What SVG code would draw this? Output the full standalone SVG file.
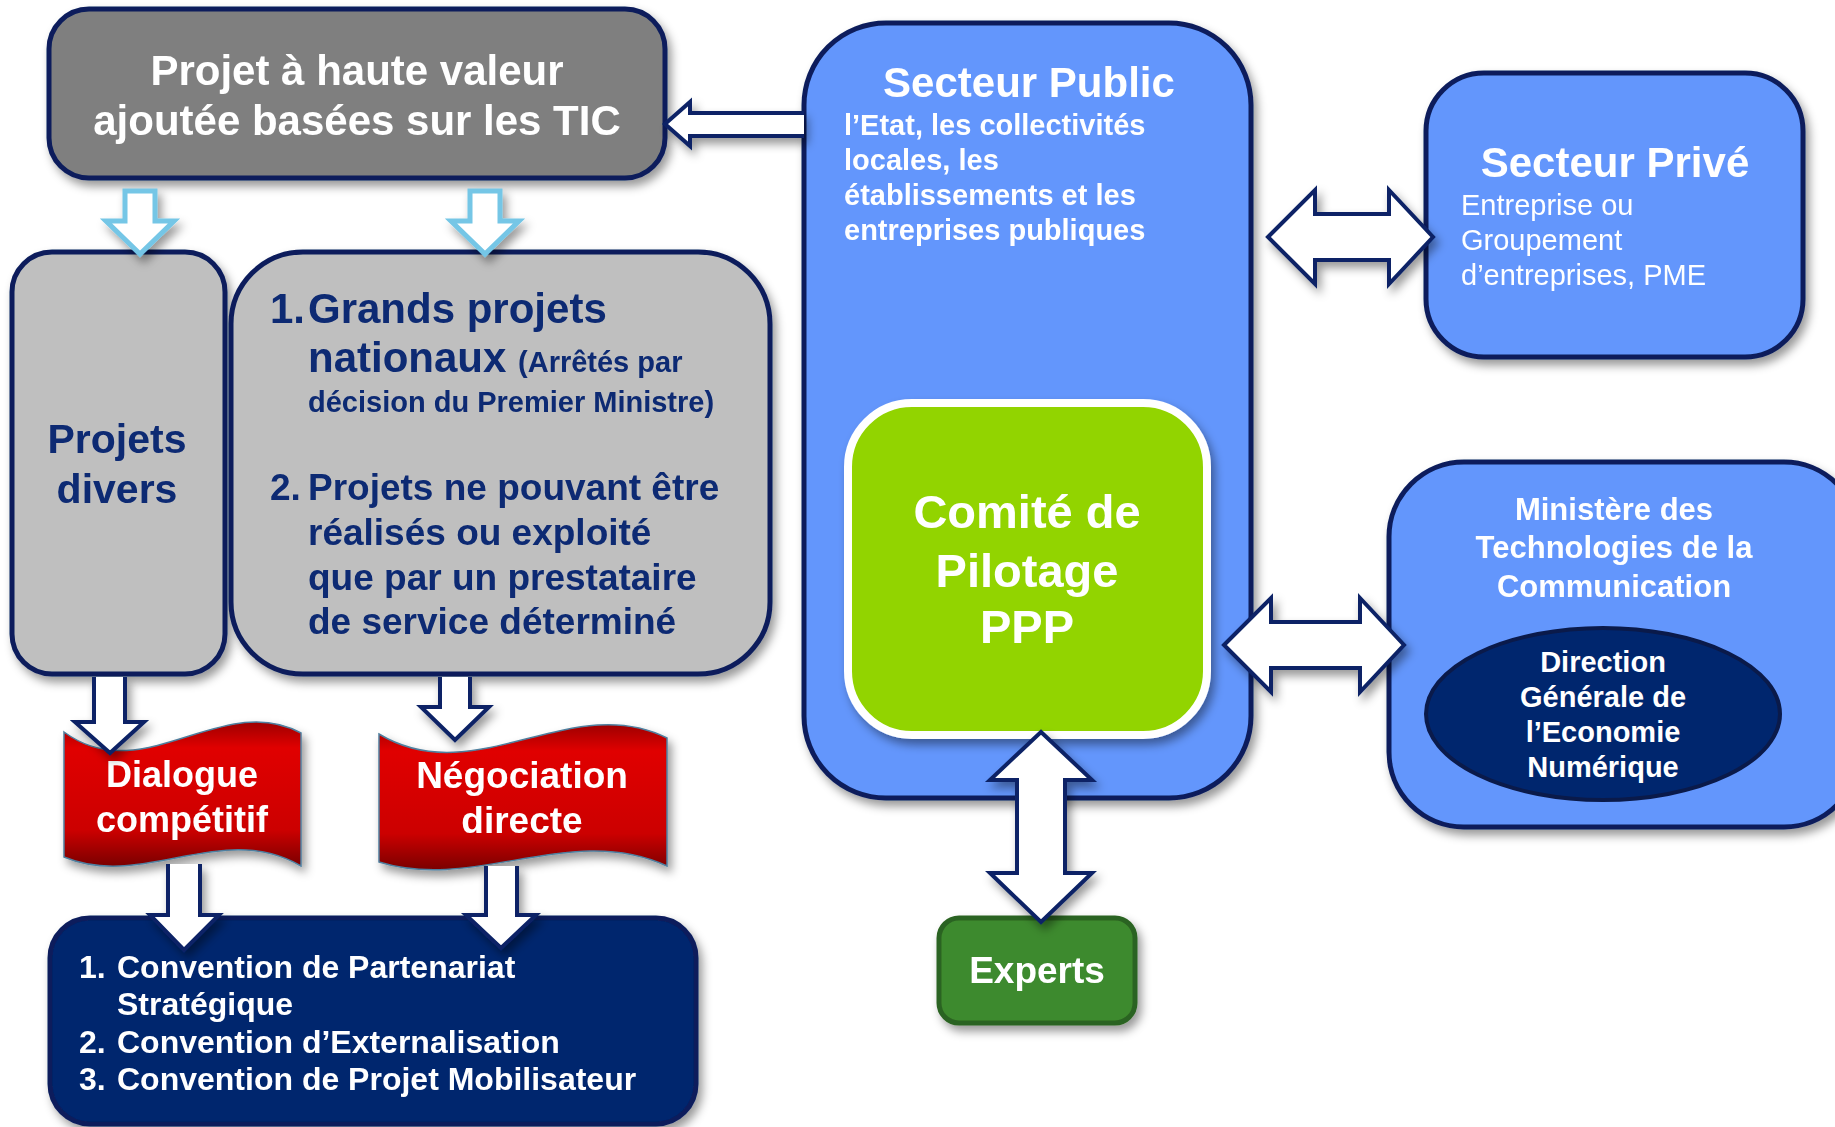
<svg xmlns="http://www.w3.org/2000/svg" width="1835" height="1127" viewBox="0 0 1835 1127">
<defs>
<filter id="sh" x="-15%" y="-15%" width="135%" height="135%">
<feDropShadow dx="4" dy="6" stdDeviation="5" flood-color="#000" flood-opacity="0.4"/>
</filter>
<linearGradient id="red" x1="0" y1="0" x2="0" y2="1">
<stop offset="0" stop-color="#9e0000"/>
<stop offset="0.18" stop-color="#e00000"/>
<stop offset="0.75" stop-color="#cc0000"/>
<stop offset="1" stop-color="#7a0000"/>
</linearGradient>
<style>
text{font-family:"Liberation Sans",Arial,sans-serif;font-weight:bold}
.box{stroke:#0a1f5c;stroke-width:5}
.grey{fill:#7f7f7f}
.lgrey{fill:#bfbfbf}
.blue{fill:#6396fc}
.navy{fill:#00256e}
.w{fill:#fff}
.nv{fill:#0d2a73}
.arr{fill:#fff;stroke:#0a2366;stroke-width:4;stroke-linejoin:miter}
.larr{fill:#fff;stroke:#74c6e6;stroke-width:5;stroke-linejoin:miter}
.banner{fill:url(#red);stroke:#4f7f9e;stroke-width:1.5}
</style>
</defs>

<g id="projet-tic" filter="url(#sh)">
<rect class="box grey" x="49" y="9" width="616" height="169" rx="40"/>
<text class="w" x="357" y="85" font-size="42" text-anchor="middle">Projet à haute valeur</text>
<text class="w" x="357" y="135" font-size="42" text-anchor="middle">ajoutée basées sur les TIC</text>
</g>

<g id="projets-divers" filter="url(#sh)">
<rect class="box lgrey" x="12" y="252" width="213" height="422" rx="40"/>
<text class="nv" x="117" y="453" font-size="41" text-anchor="middle">Projets</text>
<text class="nv" x="117" y="503" font-size="41" text-anchor="middle">divers</text>
</g>

<g id="grands-projets" filter="url(#sh)">
<rect class="box lgrey" x="231" y="252" width="539" height="422" rx="72"/>
<text class="nv" font-size="42"><tspan x="270" y="323">1.</tspan><tspan x="308" y="323">Grands projets</tspan><tspan x="308" y="372">nationaux </tspan><tspan font-size="29">(Arrêtés par</tspan></text>
<text class="nv" x="308" y="412" font-size="29">décision du Premier Ministre)</text>
<text class="nv" font-size="37"><tspan x="270" y="500">2.</tspan><tspan x="308" y="500">Projets ne pouvant être</tspan><tspan x="308" y="545">réalisés ou exploité</tspan><tspan x="308" y="590">que par un prestataire</tspan><tspan x="308" y="634">de service déterminé</tspan></text>
</g>

<g id="dialogue" filter="url(#sh)">
<path class="banner" d="M64,732 C143,790 222,690 301,733 L301,866 C222,820 143,890 64,857 Z"/>
<text class="w" x="182" y="787" font-size="36" text-anchor="middle">Dialogue</text>
<text class="w" x="182" y="832" font-size="36" text-anchor="middle">compétitif</text>
</g>

<g id="negociation" filter="url(#sh)">
<path class="banner" d="M379,734 C475,792 571,690 667,738 L667,866 C571,822 475,892 379,862 Z"/>
<text class="w" x="522" y="788" font-size="37" text-anchor="middle">Négociation</text>
<text class="w" x="522" y="833" font-size="37" text-anchor="middle">directe</text>
</g>

<g id="conventions" filter="url(#sh)">
<rect class="box navy" x="50" y="918" width="646" height="206" rx="40"/>
<text class="w" font-size="32"><tspan x="79" y="978">1.</tspan><tspan x="117" y="978">Convention de Partenariat</tspan><tspan x="117" y="1015">Stratégique</tspan><tspan x="79" y="1053">2.</tspan><tspan x="117" y="1053">Convention d’Externalisation</tspan><tspan x="79" y="1090">3.</tspan><tspan x="117" y="1090">Convention de Projet Mobilisateur</tspan></text>
</g>

<g id="secteur-public" filter="url(#sh)">
<rect class="box blue" x="804" y="23" width="447" height="775" rx="82"/>
<text class="w" x="1029" y="97" font-size="42" text-anchor="middle">Secteur Public</text>
<text class="w" font-size="29"><tspan x="844" y="135">l’Etat, les collectivités</tspan><tspan x="844" y="170">locales, les</tspan><tspan x="844" y="205">établissements et les</tspan><tspan x="844" y="240">entreprises publiques</tspan></text>
</g>

<g id="comite" filter="url(#sh)">
<rect x="848" y="403" width="359" height="332" rx="64" fill="#92d400" stroke="#fff" stroke-width="8"/>
<text class="w" x="1027" y="528" font-size="47" text-anchor="middle">Comité de</text>
<text class="w" x="1027" y="587" font-size="47" text-anchor="middle">Pilotage</text>
<text class="w" x="1027" y="643" font-size="47" text-anchor="middle">PPP</text>
</g>

<g id="secteur-prive" filter="url(#sh)">
<rect class="box blue" x="1426" y="73" width="377" height="284" rx="58"/>
<text class="w" x="1615" y="177" font-size="42" text-anchor="middle">Secteur Privé</text>
<text class="w" font-size="29" font-weight="normal" style="font-weight:normal"><tspan x="1461" y="215">Entreprise ou</tspan><tspan x="1461" y="250">Groupement</tspan><tspan x="1461" y="285">d’entreprises, PME</tspan></text>
</g>

<g id="ministere" filter="url(#sh)">
<rect class="box blue" x="1389" y="462" width="470" height="365" rx="75"/>
<text class="w" x="1614" y="520" font-size="31" text-anchor="middle">Ministère des</text>
<text class="w" x="1614" y="558" font-size="31" text-anchor="middle">Technologies de la</text>
<text class="w" x="1614" y="597" font-size="31" text-anchor="middle">Communication</text>
</g>

<g id="direction">
<ellipse cx="1603" cy="714" rx="177" ry="86" fill="#00266e" stroke="#0a1a4a" stroke-width="4"/>
<text class="w" x="1603" y="672" font-size="29" text-anchor="middle">Direction</text>
<text class="w" x="1603" y="707" font-size="29" text-anchor="middle">Générale de</text>
<text class="w" x="1603" y="742" font-size="29" text-anchor="middle">l’Economie</text>
<text class="w" x="1603" y="777" font-size="29" text-anchor="middle">Numérique</text>
</g>

<g id="experts" filter="url(#sh)">
<rect x="939" y="918" width="196" height="105" rx="20" fill="#3e8a2f" stroke="#2c6421" stroke-width="5"/>
<text class="w" x="1037" y="983" font-size="37" text-anchor="middle">Experts</text>
</g>

<g id="connectors" filter="url(#sh)">
<path class="arr" d="M804,113 L690,113 L690,102 L665,124 L690,146 L690,136 L804,136"/>
<path class="larr" d="M125,191 L155,191 L155,221 L174,221 L140,254 L106,221 L125,221 Z"/>
<path class="larr" d="M470,191 L500,191 L500,221 L519,221 L485,254 L451,221 L470,221 Z"/>
<path class="arr" d="M94,677 L94,722 L75,722 L110,753 L144,722 L125,722 L125,677"/>
<path class="arr" d="M440,677 L440,707 L421,707 L455,740 L489,707 L470,707 L470,677"/>
<path class="arr" d="M168,864 L168,915 L150,915 L184,950 L219,915 L200,915 L200,864"/>
<path class="arr" d="M486,866 L486,915 L466,915 L501,948 L536,915 L517,915 L517,866"/>
<path class="arr" d="M1268,237 L1315,190 L1315,214 L1389,214 L1389,190 L1433,237 L1389,284 L1389,260 L1315,260 L1315,284 Z"/>
<path class="arr" d="M1224,645 L1271,598 L1271,622 L1360,622 L1360,598 L1404,645 L1360,692 L1360,668 L1271,668 L1271,692 Z"/>
<path class="arr" d="M1041,732 L1092,780 L1065,780 L1065,873 L1092,873 L1041,922 L990,873 L1017,873 L1017,780 L990,780 Z"/>
</g>
</svg>
